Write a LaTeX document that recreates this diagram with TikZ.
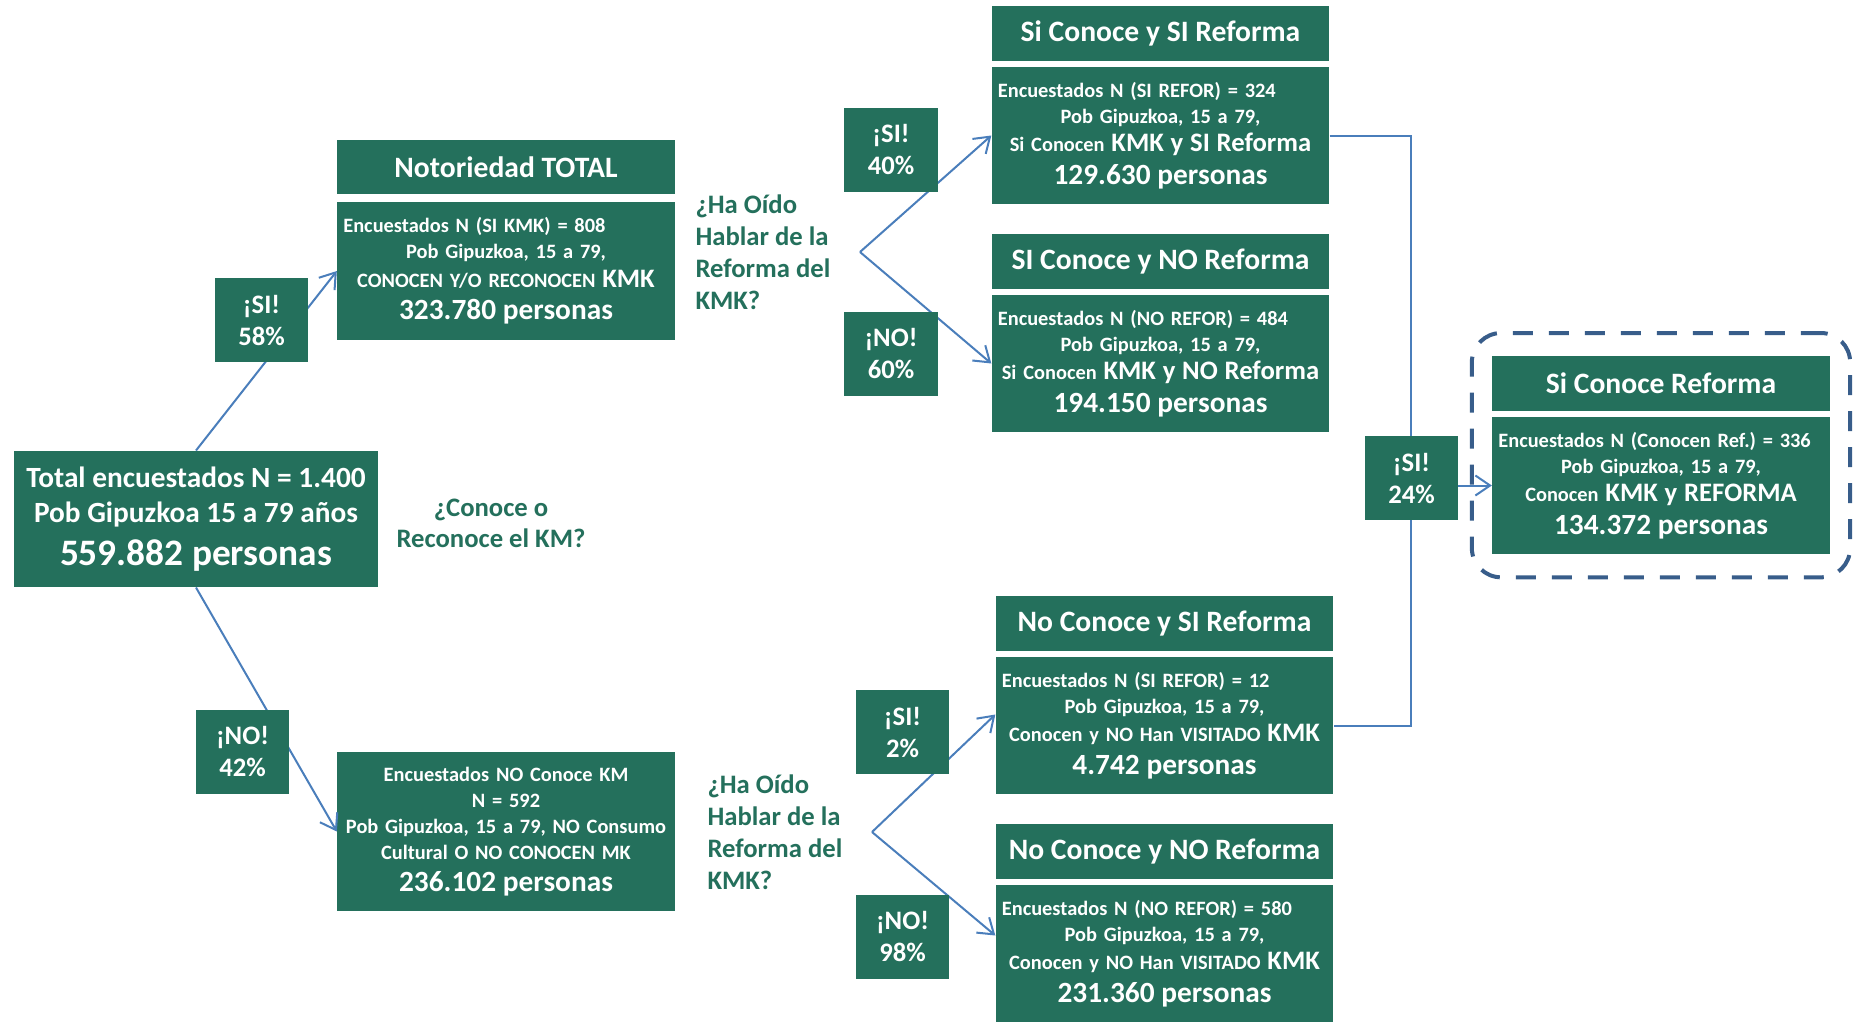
\documentclass[tikz,border=0pt]{standalone}
\usepackage{fontspec}
\setmainfont{Carlito}
\usetikzlibrary{arrows.meta,fit,calc}
\frenchspacing

\definecolor{verdecaja}{RGB}{36,112,92}
\definecolor{azulflecha}{RGB}{74,126,187}
\definecolor{azulmarco}{RGB}{56,93,138}

\newcommand{\letracuerpo}{\fontsize{15.3}{19.5}\selectfont}
\newcommand{\letrakmk}{\fontsize{20}{22}\selectfont}
\newcommand{\letrapersonas}{\fontsize{22}{25}\selectfont}
\newcommand{\renglonizq}[1]{\makebox[\linewidth][l]{#1}\\}

\tikzset{every picture/.style={line width=0.75pt},
  caja/.style={rectangle, fill=verdecaja, text=white, inner sep=0pt, align=center},
  cabecera/.style={caja, minimum width=253pt, minimum height=41pt, font=\bfseries\fontsize{22.2}{26}\selectfont},
  cuerpo/.style={caja, minimum width=253pt, minimum height=103pt, text width=244pt, font=\bfseries\letracuerpo},
  porcentaje/.style={caja, minimum width=70pt, minimum height=63pt, font=\bfseries\fontsize{20}{24}\selectfont},
  pregunta/.style={text=verdecaja, inner sep=0pt, font=\bfseries\fontsize{20}{24}\selectfont},
  flecha/.style={draw=azulflecha, line width=1.5pt, -{Straight Barb[length=11pt,width=15pt]}},
  linea/.style={draw=azulflecha, line width=1.5pt},
  marco/.style={draw=azulmarco, line width=3pt, dash pattern=on 15pt off 12pt, rounded corners=22pt, inner xsep=15pt, inner ysep=17pt}
}

\begin{document}
\begin{tikzpicture}[x=0.75pt,y=0.75pt,yscale=-1,xscale=1]
\useasboundingbox (0,0) rectangle (1863,1022);

%Total
\node[caja, minimum width=273pt, minimum height=102pt, font=\bfseries\fontsize{22}{26}\selectfont] (total) at (196,519) {Total encuestados N = 1.400\\Pob Gipuzkoa 15 a 79 años\\[6pt]{\fontsize{28}{30}\selectfont 559.882 personas}};
% Text Node
\node[pregunta, align=center, font=\bfseries\fontsize{20}{23}\selectfont] (conoce) at (491,523.5) {¿Conoce o\\Reconoce el KM?};

%Notoriedad
\node[cabecera] (notor) at (506,167) {Notoriedad TOTAL};
\node[cuerpo] (notorb) at (506,271) {\renglonizq{Encuestados N (SI KMK) = 808}Pob Gipuzkoa, 15 a 79,\\[2pt]CONOCEN Y/O RECONOCEN {\letrakmk KMK}\\[5pt]{\letrapersonas 323.780 personas}};
%No conoce
\node[cuerpo, minimum height=119pt, text width=252pt] (nocb) at (506,831.5) {Encuestados NO Conoce KM\\N = 592\\Pob Gipuzkoa, 15 a 79, NO Consumo\\Cultural O NO CONOCEN MK\\[5pt]{\letrapersonas 236.102 personas}};

% Text Node
\node[pregunta, anchor=west, align=left] (preg1) at (695,252) {¿Ha Oído\\Hablar de la\\Reforma del\\KMK?};
\node[pregunta, anchor=west, align=left] (preg2) at (707,832) {¿Ha Oído\\Hablar de la\\Reforma del\\KMK?};
\coordinate (rama1) at (860,252);
\coordinate (rama2) at (872,832);

%Si conoce
\node[cabecera] (sisi) at (1160.5,33.5) {Si Conoce y SI Reforma};
\node[cuerpo] (sisib) at (1160.5,135.5) {\renglonizq{Encuestados N (SI REFOR) = 324}Pob Gipuzkoa, 15 a 79,\\[2pt]Si Conocen {\letrakmk KMK y SI Reforma}\\[5pt]{\letrapersonas 129.630 personas}};
\node[cabecera] (sino) at (1160.5,261.5) {SI Conoce y NO Reforma};
\node[cuerpo] (sinob) at (1160.5,363.5) {\renglonizq{Encuestados N (NO REFOR) = 484}Pob Gipuzkoa, 15 a 79,\\[2pt]Si Conocen {\letrakmk KMK y NO Reforma}\\[5pt]{\letrapersonas 194.150 personas}};

%No conoce
\node[cabecera] (nosi) at (1164.5,623.5) {No Conoce y SI Reforma};
\node[cuerpo] (nosib) at (1164.5,725.5) {\renglonizq{Encuestados N (SI REFOR) = 12}Pob Gipuzkoa, 15 a 79,\\[2pt]Conocen y NO Han VISITADO {\letrakmk KMK}\\[5pt]{\letrapersonas 4.742 personas}};
\node[cabecera] (nono) at (1164.5,851.5) {No Conoce y NO Reforma};
\node[cuerpo] (nonob) at (1164.5,953.5) {\renglonizq{Encuestados N (NO REFOR) = 580}Pob Gipuzkoa, 15 a 79,\\[2pt]Conocen y NO Han VISITADO {\letrakmk KMK}\\[5pt]{\letrapersonas 231.360 personas}};

%Resultado
\node[cabecera] (sic) at (1661,383.5) {Si Conoce Reforma};
\node[cuerpo] (sicb) at (1661,485.5) {\renglonizq{Encuestados N (Conocen Ref.) = 336}Pob Gipuzkoa, 15 a 79,\\[2pt]Conocen {\letrakmk KMK y REFORMA}\\[5pt]{\letrapersonas 134.372 personas}};
\node[marco, fit=(sic)(sicb)] (recuadro) {};
\coordinate (union) at (1411,485.5);

%Straight Lines
\draw[flecha] (total.north) -- (notorb.west);
\draw[flecha] (total.south) -- (nocb.west);
\draw[flecha] (rama1) -- (sisib.west);
\draw[flecha] (rama1) -- (sinob.west);
\draw[flecha] (rama2) -- ($(nosib.west)+(0,-11)$);
\draw[flecha] (rama2) -- ($(nonob.west)+(0,-18)$);
\draw[linea] (sisib.east) -| (union) |- (nosib.east);
\draw[flecha] (union) -- (sicb.west);

%Porcentajes
\node[porcentaje] (psi58) at (261.5,320) {¡SI!\\58\%};
\node[porcentaje] (pno42) at (242.5,751.5) {¡NO!\\42\%};
\node[porcentaje] (psi40) at (891,150) {¡SI!\\40\%};
\node[porcentaje] (pno60) at (891,353.5) {¡NO!\\60\%};
\node[porcentaje] (psi2) at (902.5,732) {¡SI!\\2\%};
\node[porcentaje] (pno98) at (902.5,936.5) {¡NO!\\98\%};
\node[porcentaje] (psi24) at (1411.5,478) {¡SI!\\24\%};
\end{tikzpicture}
\end{document}
